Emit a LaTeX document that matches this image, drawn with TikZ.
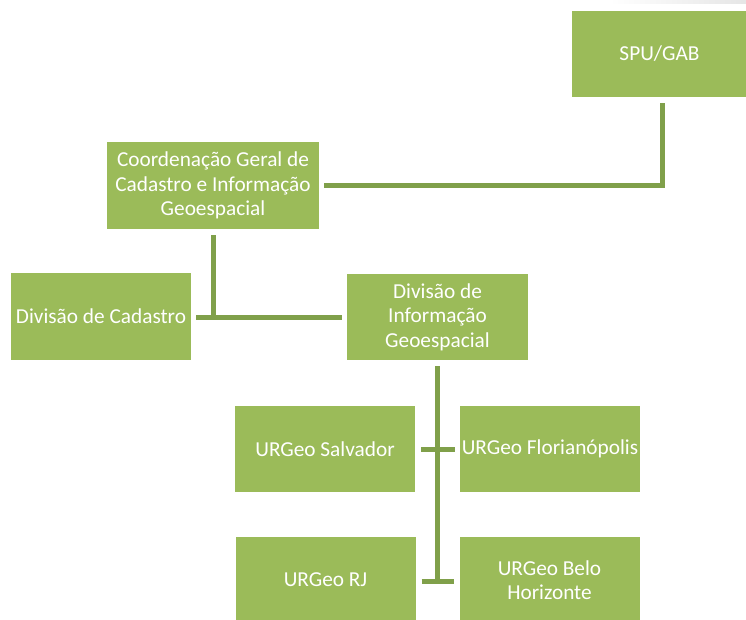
\documentclass[tikz,border=0pt]{standalone}
\usepackage{fontspec}
\setmainfont{Carlito}
\usetikzlibrary{calc}
\definecolor{boxgreen}{HTML}{9BBB59}
\definecolor{linegreen}{HTML}{80A04A}
\tikzset{
  box/.style={fill=boxgreen, draw=none, text=white, align=center,
    font=\fontsize{21.3}{24.5}\selectfont, inner sep=1pt},
  conn/.style={draw=linegreen, line width=5pt, line join=miter, line cap=butt}
}
\begin{document}
\begin{tikzpicture}[x=1pt,y=-1pt]
\useasboundingbox[fill=white] (0,0) rectangle (746,620);
\shade[left color=white, right color=black!10] (610,0) rectangle (746,4);
\begin{scope}
\clip (0,0) rectangle (746,620);
\node[box, minimum width=175, minimum height=86] (spu) at (659.5,54) {SPU/GAB};
\node[box, minimum width=212, minimum height=87] (coord) at (213,185.5) {Coordenação Geral de\\Cadastro e Informação\\Geoespacial};
\node[box, minimum width=180, minimum height=87] (cad) at (101,316.5) {Divisão de Cadastro};
\node[box, minimum width=181, minimum height=86] (info) at (437.5,317) {Divisão de\\Informação\\Geoespacial};
\node[box, minimum width=180, minimum height=86] (sal) at (325,449) {URGeo Salvador};
\node[box, minimum width=180, minimum height=86] (flo) at (550,449) {URGeo Florianópolis};
\node[box, minimum width=180, minimum height=86] (rj) at (325.5,580) {URGeo RJ};
\node[box, minimum width=180, minimum height=86] (bh) at (549.5,580) {URGeo Belo\\Horizonte};
\end{scope}
\coordinate (spuout) at ($(spu.south)+(2.5,6)$);
\coordinate (coordin) at ($(coord.east)+(5,0.5)$);
\draw[conn] (spuout) |- (coordin);
\coordinate (coordout) at ($(coord.south)+(0,6)$);
\coordinate (cadin) at ($(cad.east)+(5,1)$);
\coordinate (infoin) at ($(info.west)+(-5,0.5)$);
\coordinate (junction) at (coordout |- cadin);
\draw[conn] (coordout) -- ($(junction)+(0,2.5)$);
\draw[conn] (cadin) -- (infoin);
\coordinate (infoout) at ($(info.south)+(-0.5,6)$);
\coordinate (salin) at ($(sal.east)+(6,0)$);
\coordinate (floin) at ($(flo.west)+(-5,0)$);
\coordinate (rjin) at ($(rj.east)+(6,1)$);
\coordinate (bhin) at ($(bh.west)+(-5,1)$);
\coordinate (bottomend) at ($(infoout |- rjin)+(0,2.5)$);
\draw[conn] (infoout) -- (bottomend);
\draw[conn] (salin) -- (floin);
\draw[conn] (rjin) -- (bhin);
\end{tikzpicture}
\end{document}
